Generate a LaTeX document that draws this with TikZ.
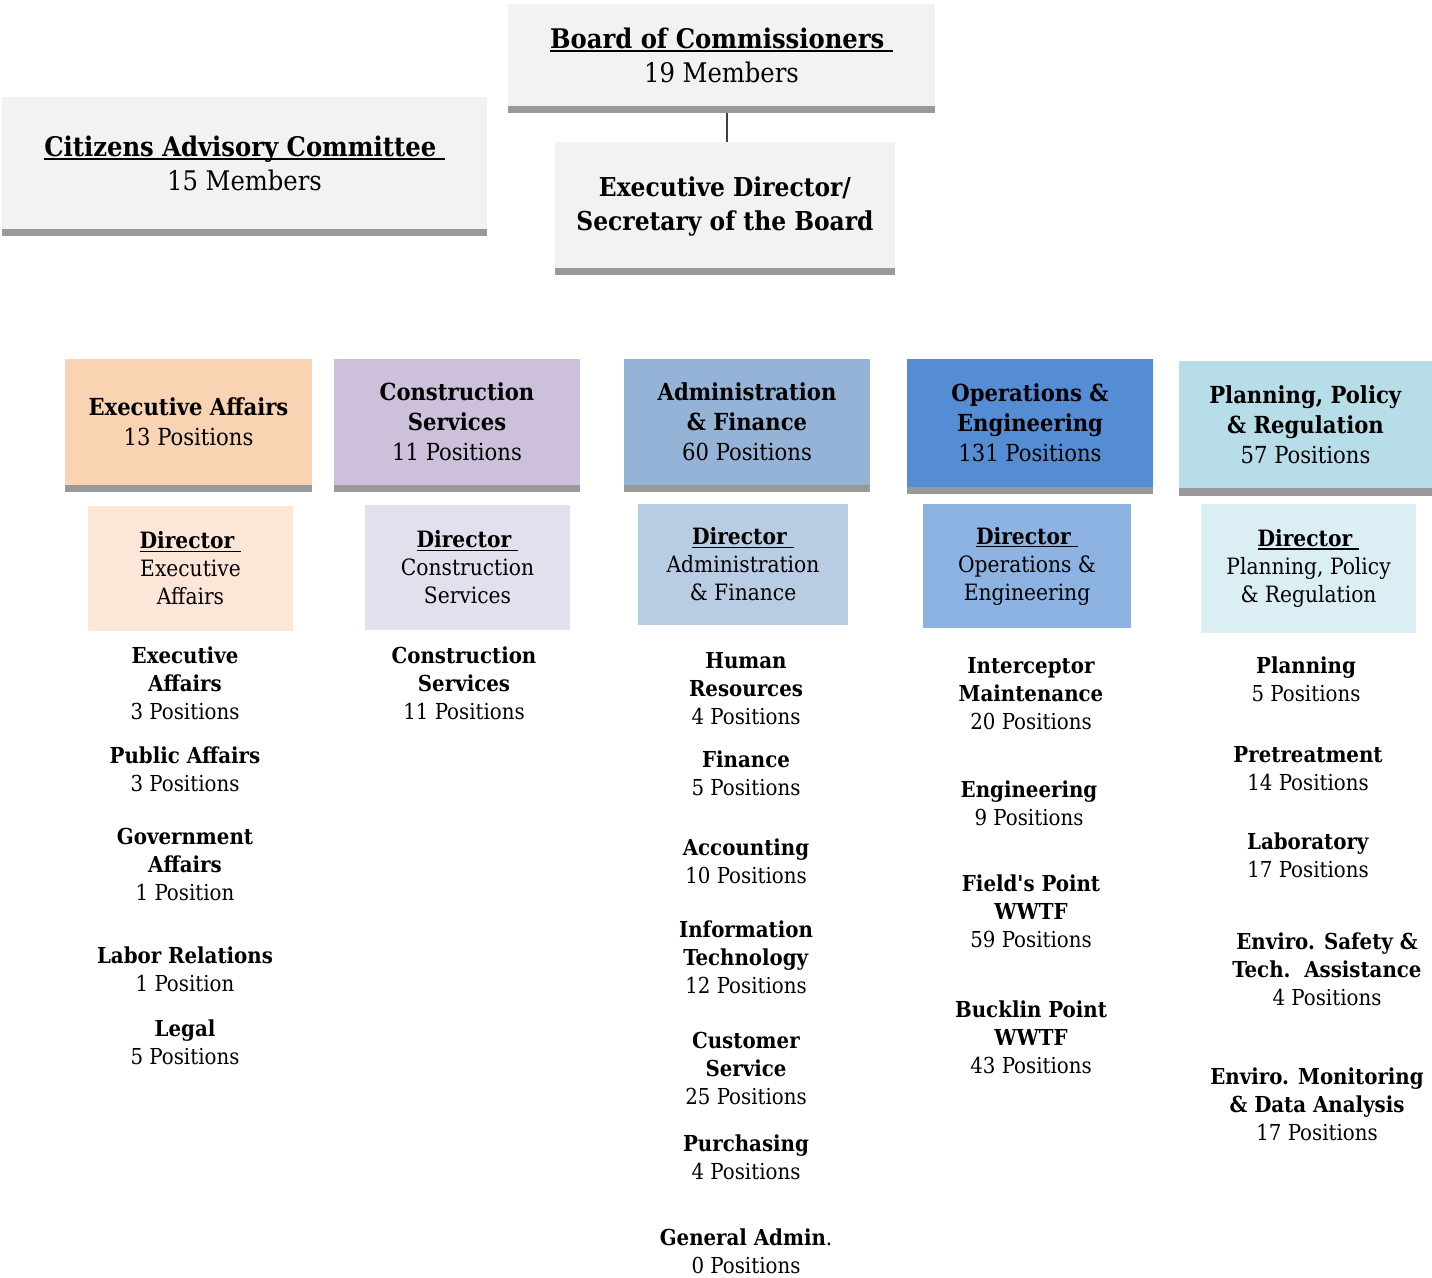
\documentclass[tikz,border=0pt]{standalone}
\usepackage{fontspec}
\setmainfont{DejaVu Serif Condensed}
\definecolor{boxgray}{HTML}{F2F2F2}
\definecolor{barc}{HTML}{999999}
\definecolor{conn}{HTML}{404040}
\definecolor{eaH}{HTML}{FAD3B2}
\definecolor{eaD}{HTML}{FCE6D8}
\definecolor{csH}{HTML}{CCC0DA}
\definecolor{csD}{HTML}{E4DFEC}
\definecolor{afH}{HTML}{95B3D7}
\definecolor{afD}{HTML}{B8CCE4}
\definecolor{oeH}{HTML}{548DD4}
\definecolor{oeD}{HTML}{8DB3E2}
\definecolor{ppH}{HTML}{B7DDE8}
\definecolor{ppD}{HTML}{DAEEF3}
\newsavebox\ulbox
\newcommand\ulz[1]{\sbox\ulbox{#1}\rlap{\rule[-0.15em]{\wd\ulbox}{0.07em}}\usebox\ulbox}
\newcommand\sq{\XeTeXglyph\XeTeXcharglyph"27\relax}
% name, x1, y1, x2, y2, fill, font style, text
\newcommand\obox[8]{%
  \node[box,#7,fill=#6,minimum width={(#4-#2)*1pt},minimum height={(#5-#3)*1pt}]
    (#1) at ({(#2+#4)/2},{(#3+#5)/2}) {#8};}
\newcommand\barunder[2]{\fill[barc] (#1.south west) rectangle ([yshift=-#2pt]#1.south east);}
\begin{document}
\begin{tikzpicture}[x=1pt,y=-1pt,
  box/.style={rectangle,inner sep=0pt,align=center,text=black},
  big/.style={font=\fontsize{27}{34}\selectfont},
  bigb/.style={font=\fontsize{26}{34}\selectfont},
  hdr/.style={font=\fontsize{23.5}{30}\selectfont},
  sml/.style={font=\fontsize{22.5}{28}\selectfont},
  item/.style={inner sep=0pt,align=center,text=black,font=\fontsize{22}{28}\selectfont},
  link/.style={draw=conn,line width=2pt}]
\useasboundingbox (0,0) rectangle (1432,1277);

% top level
\obox{board}{508}{4}{935}{106}{boxgray}{big}{\ulz{\textbf{Board of Commissioners\ }}\\19 Members}
\barunder{board}{7}
\obox{cac}{2}{97}{487}{229}{boxgray}{big}{\ulz{\textbf{Citizens Advisory Committee\ }}\\15 Members}
\barunder{cac}{7}
\obox{exd}{555}{146}{895}{268}{boxgray}{bigb}{\textbf{Executive Director/}\\\textbf{Secretary of the Board}}
\fill[boxgray] (exd.north west) rectangle ([yshift=4pt]exd.north east);
\barunder{exd}{7}
\coordinate (boardbar) at (727,113);
\draw[link] (boardbar) -- ([yshift=4pt]boardbar |- exd.north);

% divisions
\obox{ea}{65}{359}{312}{485}{eaH}{hdr}{\textbf{Executive Affairs}\\13 Positions}
\barunder{ea}{7}
\obox{cs}{334}{359}{580}{485}{csH}{hdr}{\textbf{Construction}\\\textbf{Services}\\11 Positions}
\barunder{cs}{7}
\obox{af}{624}{359}{870}{485}{afH}{hdr}{\textbf{Administration}\\\textbf{\& Finance}\\60 Positions}
\barunder{af}{7}
\obox{oe}{907}{359}{1153}{487}{oeH}{hdr}{\textbf{Operations \&}\\\textbf{Engineering}\\131 Positions}
\barunder{oe}{7}
\obox{pp}{1179}{361}{1432}{488}{ppH}{hdr}{\textbf{Planning, Policy}\\\textbf{\& Regulation}\\57 Positions}
\barunder{pp}{8}

% directors
\obox{dea}{88}{506}{293}{631}{eaD}{sml}{\ulz{\textbf{Director\ }}\\Executive\\Affairs}
\obox{dcs}{365}{505}{570}{630}{csD}{sml}{\ulz{\textbf{Director\ }}\\Construction\\Services}
\obox{daf}{638}{504}{848}{625}{afD}{sml}{\ulz{\textbf{Director\ }}\\Administration\\\& Finance}
\obox{doe}{923}{504}{1131}{628}{oeD}{sml}{\ulz{\textbf{Director\ }}\\Operations \&\\Engineering}
\obox{dpp}{1201}{504}{1416}{633}{ppD}{sml}{\ulz{\textbf{Director\ }}\\Planning, Policy\\\& Regulation}

% Executive Affairs units
\node[item] (ea1) at (185,683) {\textbf{Executive}\\\textbf{Affairs}\\3 Positions};
\node[item] (ea2) at (185,769) {\textbf{Public Affairs}\\3 Positions};
\node[item] (ea3) at (185,864) {\textbf{Government}\\\textbf{Affairs}\\1 Position};
\node[item] (ea4) at (185,969) {\textbf{Labor Relations}\\1 Position};
\node[item] (ea5) at (185,1042) {\textbf{Legal}\\5 Positions};

% Construction Services units
\node[item] (cs1) at (464,683.5) {\textbf{Construction}\\\textbf{Services}\\11 Positions};

% Administration & Finance units
\node[item] (af1) at (746,689) {\textbf{Human}\\\textbf{Resources}\\4 Positions};
\node[item] (af2) at (746,773) {\textbf{Finance}\\5 Positions};
\node[item] (af3) at (746,861.5) {\textbf{Accounting}\\10 Positions};
\node[item] (af4) at (746,957) {\textbf{Information}\\\textbf{Technology}\\12 Positions};
\node[item] (af5) at (746,1068) {\textbf{Customer}\\\textbf{Service}\\25 Positions};
\node[item] (af6) at (746,1157) {\textbf{Purchasing}\\4 Positions};
\node[item] (af7) at (746,1251) {\textbf{General Admin}.\\0 Positions};

% Operations & Engineering units
\node[item] (oe1) at (1031,694) {\textbf{Interceptor}\\\textbf{Maintenance}\\20 Positions};
\node[item] (oe2) at (1029,803) {\textbf{Engineering}\\9 Positions};
\node[item] (oe3) at (1031,911.5) {\textbf{Field\sq s Point}\\\textbf{WWTF}\\59 Positions};
\node[item] (oe4) at (1031,1037.5) {\textbf{Bucklin Point}\\\textbf{WWTF}\\43 Positions};

% Planning, Policy & Regulation units
\node[item] (pp1) at (1306,679.5) {\textbf{Planning}\\5 Positions};
\node[item] (pp2) at (1308,768.5) {\textbf{Pretreatment}\\14 Positions};
\node[item] (pp3) at (1308,855) {\textbf{Laboratory}\\17 Positions};
\node[item] (pp4) at (1327,969.5) {\textbf{Enviro. Safety \&}\\\textbf{Tech.\ \ Assistance}\\4 Positions};
\node[item] (pp5) at (1317,1104) {\textbf{Enviro. Monitoring}\\\textbf{\& Data Analysis}\\17 Positions};
\end{tikzpicture}
\end{document}
